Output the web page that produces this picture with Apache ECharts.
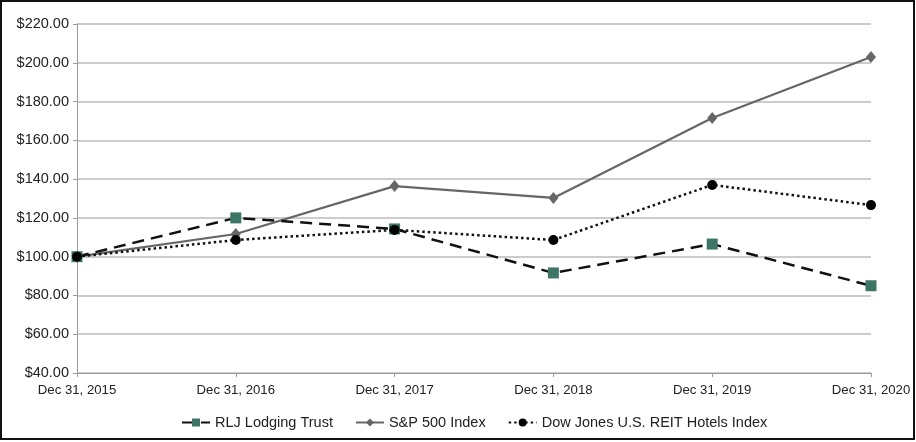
<!DOCTYPE html>
<html><head><meta charset="utf-8">
<script src="https://cdn.jsdelivr.net/npm/echarts@6/dist/echarts.min.js"></script>
<style>html,body{margin:0;padding:0;background:#fff}#c{width:916px;height:442px}</style>
</head><body><div id="c"></div>
<script>
const categories = ['Dec 31, 2015','Dec 31, 2016','Dec 31, 2017','Dec 31, 2018','Dec 31, 2019','Dec 31, 2020'];
const rlj = [100, 120.0, 114.3, 91.6, 106.5, 85.0];
const sp500 = [100, 111.7, 136.4, 130.3, 171.5, 203.0];
const djHotels = [100, 108.6, 113.8, 108.6, 137.0, 126.6];
const names = ['RLJ Lodging Trust','S&P 500 Index','Dow Jones U.S. REIT Hotels Index'];
const chart = echarts.init(document.getElementById('c'), null, {renderer:'canvas'});
const font = 'Liberation Sans, Arial, Helvetica, sans-serif';
chart.setOption({
  animation:false,
  backgroundColor:'#fff',
  textStyle:{fontFamily:font},
  grid:{left:77,right:45,top:24,bottom:69,containLabel:false},
  graphic:[{type:'rect',shape:{x:1,y:1,width:913,height:438},style:{fill:'none',stroke:'#111',lineWidth:2},silent:true}],
  legend:{top:410,left:176,itemGap:22,itemWidth:28,itemHeight:10,
    textStyle:{fontFamily:font,fontSize:14.5,color:'#222'},
    data:names},
  xAxis:{type:'category',data:categories,boundaryGap:false,
    axisLine:{lineStyle:{color:'#999',width:1}},
    axisTick:{show:true,alignWithLabel:true,length:4,lineStyle:{color:'#999'}},
    axisLabel:{color:'#222',fontSize:13.2,fontFamily:font,margin:11,interval:0},
    splitLine:{show:false}},
  yAxis:{type:'value',min:40,max:220,interval:20,
    axisLine:{show:true,lineStyle:{color:'#999'}},
    axisTick:{show:true,length:4,lineStyle:{color:'#999'}},
    axisLabel:{color:'#222',fontSize:14.5,fontFamily:font,margin:8,formatter:v=>'$'+v.toFixed(2)},
    splitLine:{show:true,lineStyle:{color:'#bbb',width:1.5}}},
  series:[
    {name:names[0],type:'line',data:rlj,symbol:'rect',symbolSize:11,
     itemStyle:{color:'#3d7566'},lineStyle:{color:'#111',width:2.5,type:[12,7]},z:3},
    {name:names[1],type:'line',data:sp500,symbol:'diamond',symbolSize:[10,12],
     itemStyle:{color:'#666'},lineStyle:{color:'#666',width:2.2,type:'solid'},z:2},
    {name:names[2],type:'line',data:djHotels,symbol:'circle',symbolSize:10,
     itemStyle:{color:'#000'},lineStyle:{color:'#111',width:2.5,type:[2.5,3]},z:4}
  ]
});
</script></body></html>
